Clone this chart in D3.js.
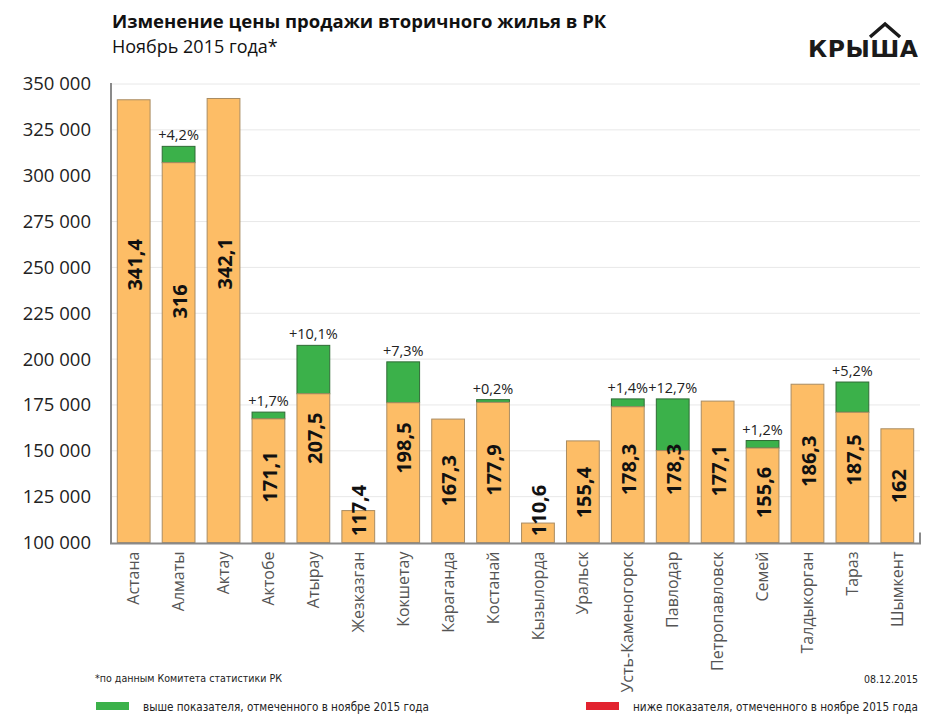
<!DOCTYPE html>
<html><head><meta charset="utf-8">
<script src="https://cdn.jsdelivr.net/npm/d3@7"></script>
<style>
html,body{margin:0;padding:0;background:#fff;}
svg{display:block;font-family:"Open Sans","Noto Sans",sans-serif;}
</style></head>
<body>
<svg id="chart" width="950" height="720"></svg>
<script>
// ---- data (thousands of tenge per m²) ----
const cities = ["Астана","Алматы","Актау","Актобе","Атырау","Жезказган","Кокшетау","Караганда","Костанай","Кызылорда","Уральск","Усть-Каменогорск","Павлодар","Петропавловск","Семей","Талдыкорган","Тараз","Шымкент"];
const totalValues = [341.4, 316, 342.1, 171.1, 207.5, 117.4, 198.5, 167.3, 177.9, 110.6, 155.4, 178.3, 178.3, 177.1, 155.6, 186.3, 187.5, 162];
const baseValues  = [341.4, 307.1, 342.1, 167.4, 181.1, 117.4, 176.2, 167.3, 176.4, 110.6, 155.4, 174.0, 150.1, 177.1, 151.5, 186.3, 171.0, 162];
const changeLabels = ["", "+4,2%", "", "+1,7%", "+10,1%", "", "+7,3%", "", "+0,2%", "", "", "+1,4%", "+12,7%", "", "+1,2%", "", "+5,2%", ""];
const yTicks = [100000,125000,150000,175000,200000,225000,250000,275000,300000,325000,350000];
const title = "Изменение цены продажи вторичного жилья в РК";
const subtitle = "Ноябрь 2015 года*";
const sourceNote = "*по данным Комитета статистики РК";
const dateNote = "08.12.2015";
const legendItems = ["выше показателя, отмеченного в ноябре 2015 года", "ниже показателя, отмеченного в ноябре 2015 года"];

(function(){
const data = cities.map((c,i)=>({city:c,total:totalValues[i]*1000,base:baseValues[i]*1000,label:String(totalValues[i]).replace(".",","),change:changeLabels[i]}));

const svg = d3.select("#chart");
const pLeft = 111, pRight = 920, pTop = 84, pBottom = 542.5;
const orange = "#fdbd66", orangeStroke = "#a98c62", green = "#3bb14a", greenStroke = "#2f6b35", red = "#e2232f";

const x = d3.scaleBand().domain(cities).range([pLeft,pRight]).paddingInner(0.27).paddingOuter(0.14);
const y = d3.scaleLinear().domain([100000,350000]).range([pBottom,pTop]);

// gridlines
svg.append("g").selectAll("line").data(yTicks.filter(t=>t>100000)).join("line")
  .attr("x1",pLeft).attr("x2",pRight).attr("y1",d=>y(d)).attr("y2",d=>y(d))
  .attr("stroke","#e8e8e8").attr("stroke-width",1);

// y axis labels
const ya = svg.append("g").attr("transform",`translate(${pLeft-20},0)`)
  .call(d3.axisLeft(y).tickValues(yTicks).tickSize(0).tickFormat(d=>d3.format(",")(d).replace(/,/g," ")));
ya.select(".domain").remove();
ya.selectAll("text").attr("font-size",18.5).attr("fill","#222").attr("font-family","'Open Sans',sans-serif").attr("x",0);

// bars
const bars = svg.append("g");
bars.selectAll("rect.g").data(data.filter(d=>d.total>d.base)).join("rect")
  .attr("x",d=>x(d.city)).attr("width",x.bandwidth())
  .attr("y",d=>y(d.total)).attr("height",d=>y(d.base)-y(d.total))
  .attr("fill",green).attr("stroke",greenStroke).attr("stroke-width",1);
bars.selectAll("rect.o").data(data).join("rect")
  .attr("x",d=>x(d.city)).attr("width",x.bandwidth())
  .attr("y",d=>y(d.base)).attr("height",d=>y(100000)-y(d.base))
  .attr("fill",orange).attr("stroke",orangeStroke).attr("stroke-width",1);

// value labels
svg.append("g").selectAll("text").data(data).join("text")
  .attr("transform",d=>{
    const h = y(100000)-y(d.total);
    const up = Math.max(32, h*(0.45+0.0004*h));
    return `translate(${x(d.city)+x.bandwidth()/2+1},${y(100000)-up}) rotate(-90)`;
  })
  .attr("text-anchor","middle").attr("dy","0.36em")
  .attr("font-size",20).attr("font-weight","bold").attr("fill","#111")
  .text(d=>d.label);

// change labels
svg.append("g").selectAll("text").data(data.filter(d=>d.change)).join("text")
  .attr("x",d=>x(d.city)+x.bandwidth()/2).attr("y",d=>y(d.total)-6)
  .attr("text-anchor","middle").attr("font-size",14.5).attr("fill","#222")
  .text(d=>d.change);

// axes lines
svg.append("line").attr("x1",pLeft).attr("x2",pLeft).attr("y1",83).attr("y2",pBottom+1).attr("stroke","#8a8a8a").attr("stroke-width",2);
svg.append("line").attr("x1",pLeft-1).attr("x2",pRight+1).attr("y1",pBottom+1).attr("y2",pBottom+1).attr("stroke","#8a8a8a").attr("stroke-width",2);
svg.append("line").attr("x1",pRight).attr("x2",pRight).attr("y1",pBottom-10).attr("y2",pBottom+1).attr("stroke","#8a8a8a").attr("stroke-width",2);

// x labels
const xa = svg.append("g").attr("transform",`translate(0,${pBottom+9})`)
  .call(d3.axisBottom(x).tickSize(0));
xa.select(".domain").remove();
xa.selectAll("text").attr("transform","rotate(-90)").attr("text-anchor","end")
  .attr("x",0).attr("y",0).attr("dy","0.35em")
  .attr("font-size",16).attr("fill","#555").attr("font-family","'Open Sans',sans-serif");

// title
svg.append("text").attr("x",112).attr("y",28).attr("font-size",18.5).attr("font-weight","bold").attr("fill","#111").text(title);
svg.append("text").attr("x",112).attr("y",53).attr("font-size",18).attr("fill","#111").text(subtitle);

// logo
const logo = svg.append("text").attr("x",808).attr("y",57).attr("text-anchor","start")
  .attr("font-family","'DejaVu Sans',sans-serif")
  .attr("font-size",23.5).attr("font-weight","bold").attr("fill","#1a1a1a").text("КРЫША");
{
  const nat = logo.node().getComputedTextLength();
  const extra = (110 - nat) / 4;
  logo.attr("letter-spacing", extra);
}
const sh = logo.node().getExtentOfChar(3);
const cx = sh.x + sh.width/2;
svg.append("path").attr("d",`M${cx-15},${37}L${cx},${24}L${cx+15},${37}`)
  .attr("fill","none").attr("stroke","#1a1a1a").attr("stroke-width",3.4).attr("stroke-linejoin","miter");

// footer (condensed text fitted to the reference widths)
const cond = "'Liberation Sans Narrow','DejaVu Sans Condensed','Roboto Condensed','Open Sans',sans-serif";
function fitText(sel, target, base){
  sel.attr("font-size", base);
  const nat = sel.node().getComputedTextLength();
  if (nat > target) sel.attr("font-size", base * target / nat);
  sel.attr("textLength", target).attr("lengthAdjust","spacingAndGlyphs");
}
fitText(svg.append("text").attr("x",95).attr("y",682).attr("font-family",cond).attr("fill","#222").text(sourceNote), 187, 13);
fitText(svg.append("text").attr("x",864).attr("y",683).attr("font-family",cond).attr("fill","#222").text(dateNote), 54, 13);

// legend
const lg = [{c:green,x:96,tx:143,w:286,t:legendItems[0]},{c:red,x:586,tx:633,w:285,t:legendItems[1]}];
svg.append("g").selectAll("rect").data(lg).join("rect")
  .attr("x",d=>d.x).attr("y",702).attr("width",33).attr("height",8).attr("fill",d=>d.c);
svg.append("g").selectAll("text").data(lg).join("text")
  .attr("x",d=>d.tx).attr("y",711).attr("font-family",cond).attr("fill","#222")
  .text(d=>d.t)
  .each(function(d){ fitText(d3.select(this), d.w, 13); });
})();
</script>
</body></html>
